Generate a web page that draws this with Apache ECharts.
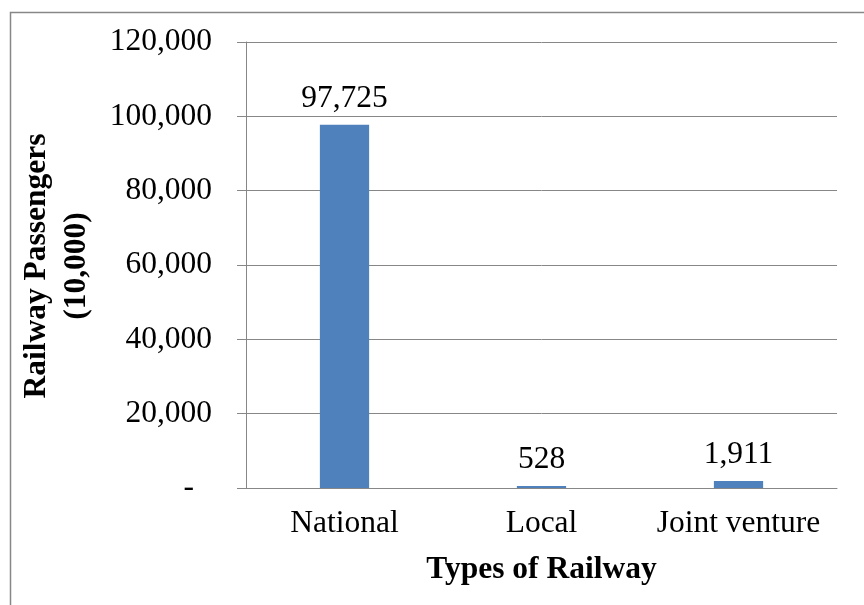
<!DOCTYPE html>
<html>
<head>
<meta charset="utf-8">
<script src="https://cdn.jsdelivr.net/npm/echarts@6/dist/echarts.min.js"></script>
<style>
  html, body { margin: 0; padding: 0; background: #fff; }
  #chart { width: 864px; height: 605px; }
</style>
</head>
<body>
<div id="chart"></div>
<script>
// Railway passengers (unit: 10,000) by type of railway
const categories = ['National', 'Local', 'Joint venture'];
const passengers = [97725, 528, 1911];
const yTicks = [0, 20000, 40000, 60000, 80000, 100000, 120000];

const FONT = '"Liberation Serif", "Times New Roman", serif';
const GRAY = '#878787';
const fmt = v => v.toLocaleString('en-US');

const chart = echarts.init(document.getElementById('chart'));
chart.setOption({
  backgroundColor: '#fff',
  animation: false,
  grid: { left: 246, right: 27, top: 42, bottom: 117, containLabel: false },
  xAxis: {
    type: 'category',
    data: categories,
    name: 'Types of Railway',
    nameLocation: 'middle',
    nameGap: 66,
    nameTextStyle: { fontFamily: FONT, fontSize: 31.5, fontWeight: 'bold', color: '#000' },
    axisLine: { lineStyle: { color: GRAY, width: 1 } },
    axisTick: { show: false },
    axisLabel: {
      interval: 0,
      hideOverlap: false,
      fontFamily: FONT, fontSize: 31.5, color: '#000', margin: 20
    }
  },
  yAxis: {
    type: 'value',
    min: yTicks[0],
    max: yTicks[yTicks.length - 1],
    interval: yTicks[1] - yTicks[0],
    axisLine: { show: true, lineStyle: { color: GRAY, width: 1 } },
    axisTick: { show: true, length: 9, lineStyle: { color: GRAY, width: 1 } },
    splitLine: { show: true, lineStyle: { color: GRAY, width: 1 } },
    axisLabel: {
      fontFamily: FONT, fontSize: 31.5, color: '#000', margin: 34,
      formatter: v => (v === 0 ? '{z|-}' : fmt(v)),
      rich: { z: { fontFamily: FONT, fontSize: 31.5, color: '#000', padding: [0, 18, 0, 0] } }
    }
  },
  series: [{
    type: 'bar',
    data: passengers,
    barWidth: '25%',
    itemStyle: { color: '#4F81BD' },
    label: {
      show: true,
      position: 'top',
      distance: 10,
      fontFamily: FONT, fontSize: 31.5, color: '#000',
      formatter: p => fmt(p.value)
    }
  }],
  graphic: [
    {
      type: 'rect',
      shape: { x: 10.5, y: 12.5, width: 900, height: 700 },
      style: { fill: 'none', stroke: GRAY, lineWidth: 1.5 },
      silent: true
    },
    {
      type: 'text',
      x: 57, y: 266,
      rotation: Math.PI / 2,
      style: {
        text: 'Railway Passengers\n(10,000)',
        font: 'bold 31.5px ' + FONT,
        fill: '#000',
        align: 'center',
        verticalAlign: 'middle',
        lineHeight: 40
      }
    }
  ]
});
</script>
</body>
</html>
